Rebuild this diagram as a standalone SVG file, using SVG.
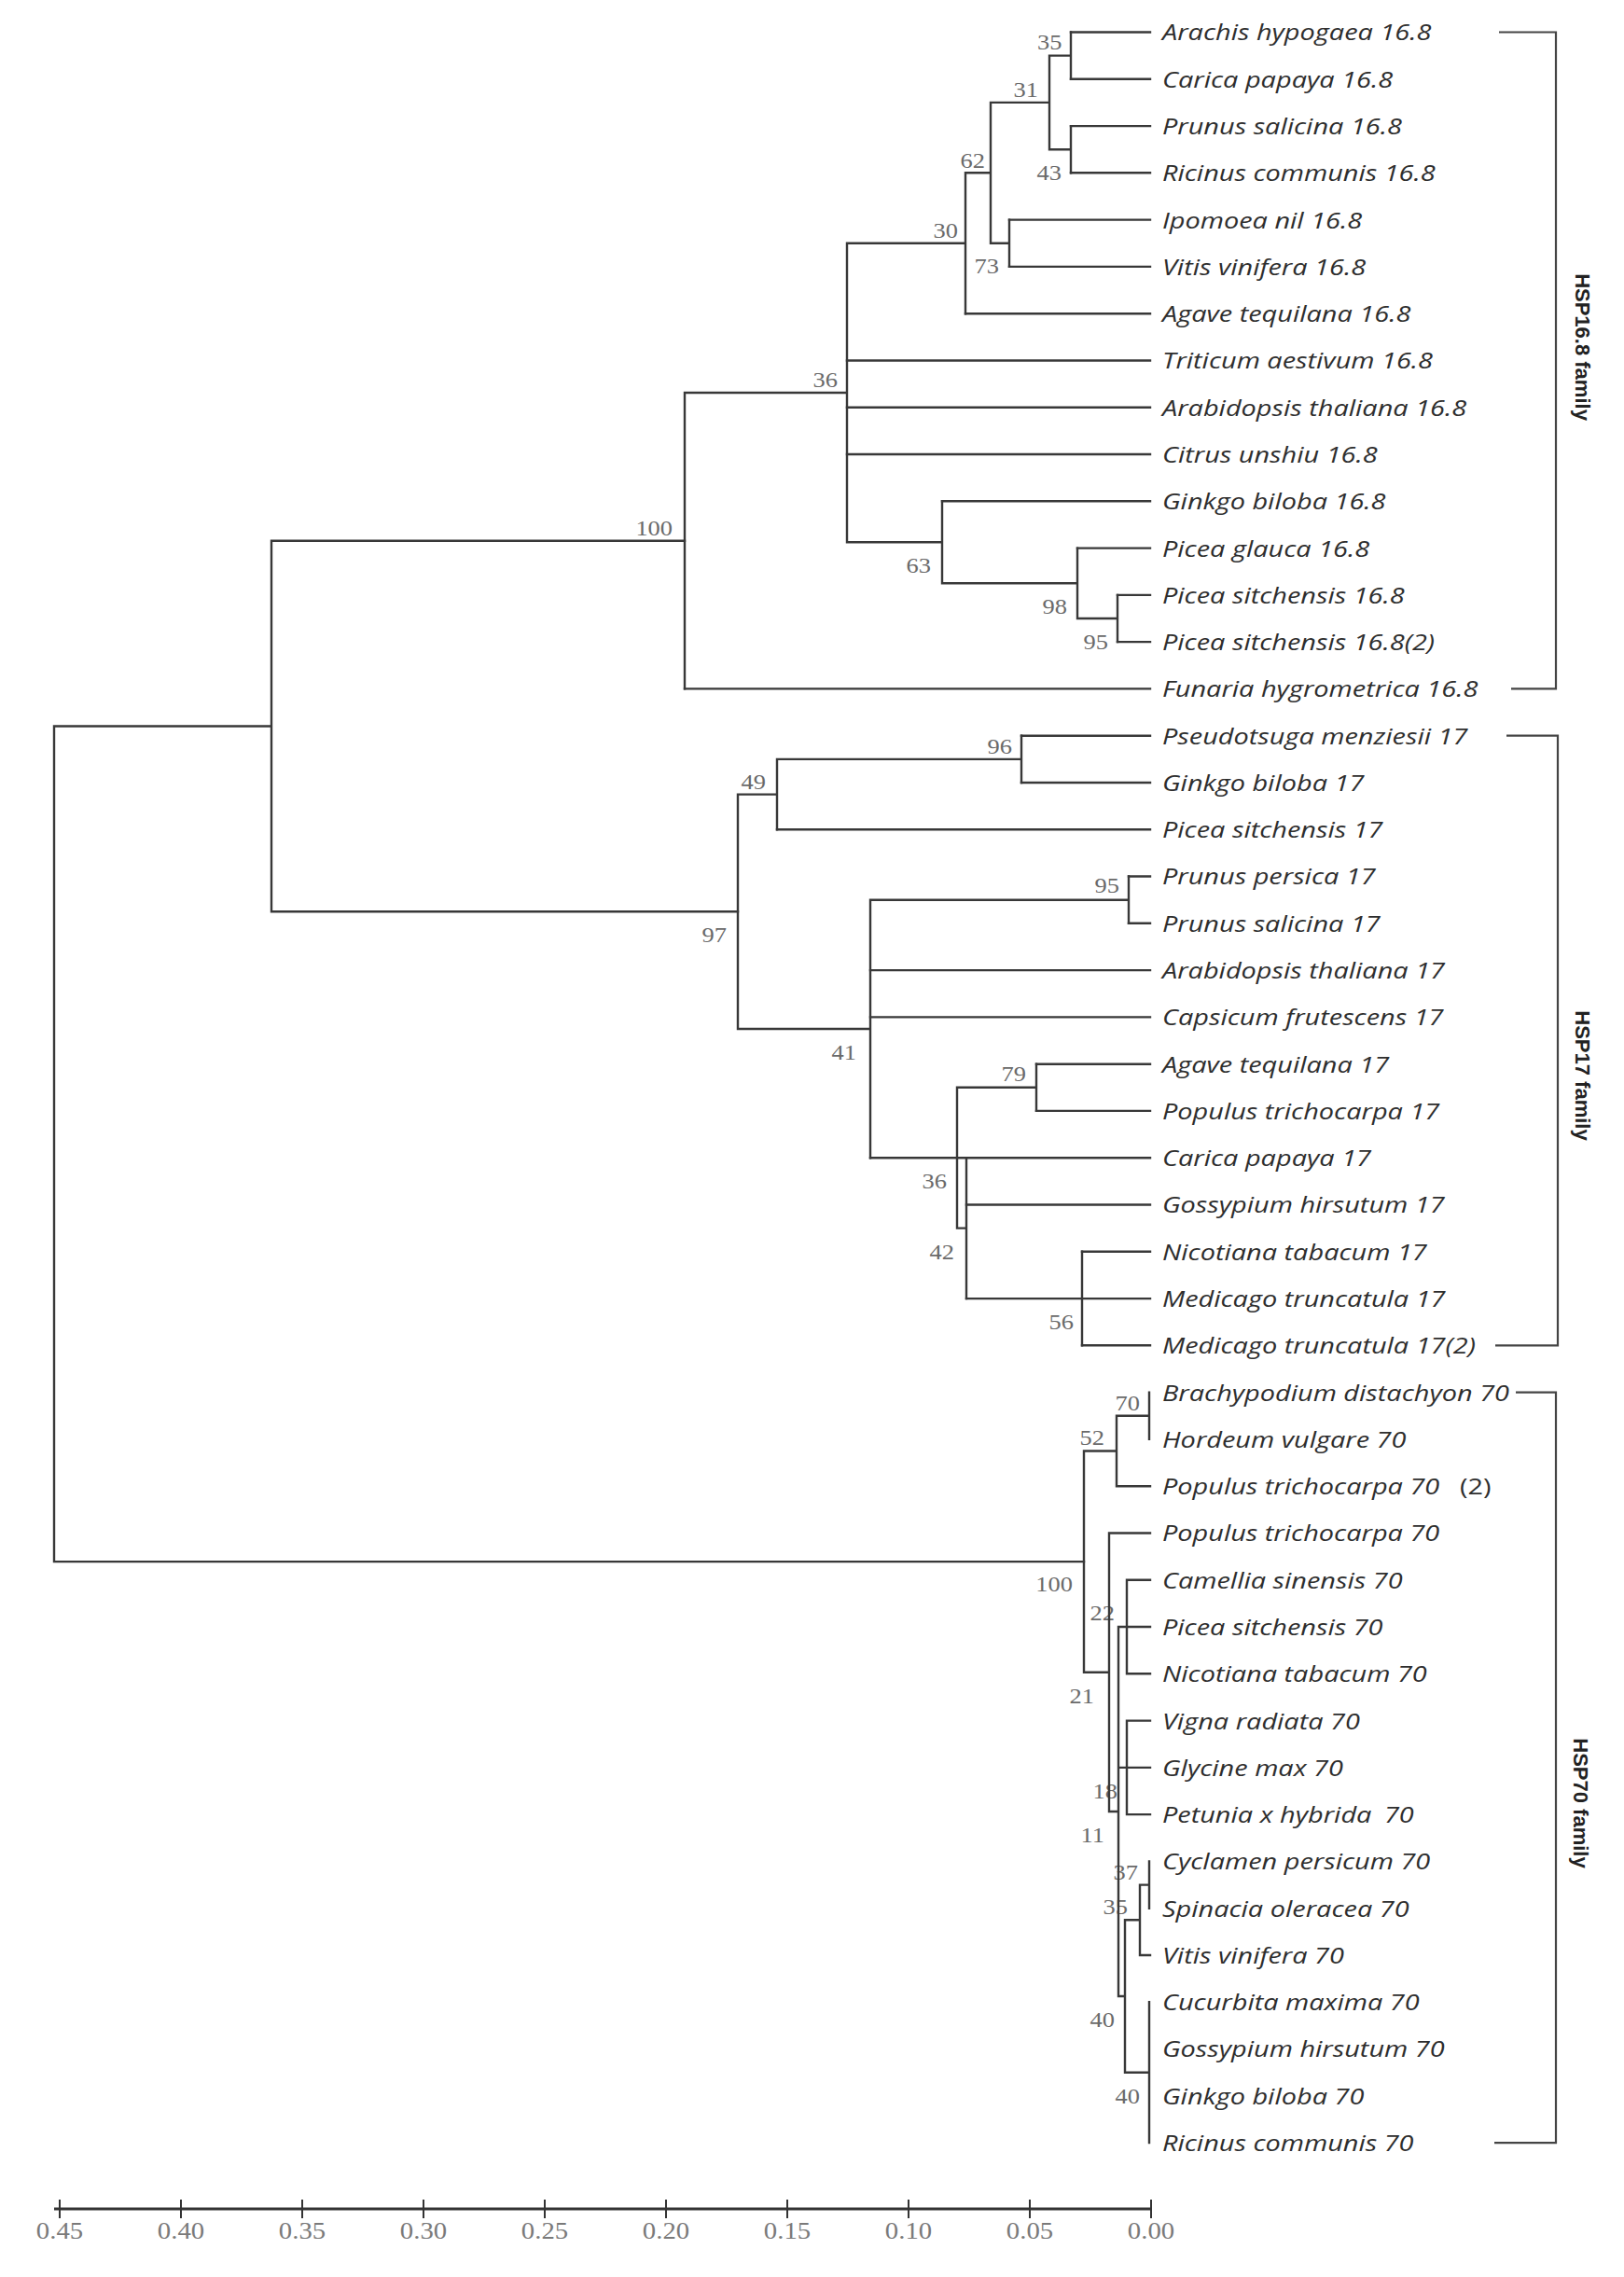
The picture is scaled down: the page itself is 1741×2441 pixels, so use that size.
<svg xmlns="http://www.w3.org/2000/svg" width="1741" height="2441" viewBox="0 0 1741 2441">
<style>
.br{fill:none;stroke:#383838;stroke-width:2.4;stroke-linecap:square}
.bk{fill:none;stroke:#444;stroke-width:2.2}
.axl{fill:none;stroke:#333;stroke-width:3}
.tk{fill:none;stroke:#333;stroke-width:2}
.leaf{font-family:"Open Sans","Liberation Sans",sans-serif;font-style:italic;font-size:24.5px;fill:#2e2e2e}
.up{font-style:normal}
.bs{font-family:"Liberation Serif",serif;font-size:23px;fill:#6a6a6a;text-anchor:end}
.ax{font-family:"Liberation Serif",serif;font-size:25px;fill:#7a7a7a;text-anchor:middle}
.fam{font-family:"Liberation Sans",sans-serif;font-weight:bold;font-size:22px;fill:#222;text-anchor:middle}
</style>
<rect x="0" y="0" width="1741" height="2441" fill="#fff"/>

<g id="leaves">
<g id="leaf-0"><text class="leaf" transform="scale(1.18,1)" x="1055.9" y="43.5">Arachis hypogaea 16.8</text></g>
<g id="leaf-1"><text class="leaf" transform="scale(1.18,1)" x="1055.9" y="93.8">Carica papaya 16.8</text></g>
<g id="leaf-2"><text class="leaf" transform="scale(1.18,1)" x="1055.9" y="144.1">Prunus salicina 16.8</text></g>
<g id="leaf-3"><text class="leaf" transform="scale(1.18,1)" x="1055.9" y="194.3">Ricinus communis 16.8</text></g>
<g id="leaf-4"><text class="leaf" transform="scale(1.18,1)" x="1055.9" y="244.6">Ipomoea nil 16.8</text></g>
<g id="leaf-5"><text class="leaf" transform="scale(1.18,1)" x="1055.9" y="294.9">Vitis vinifera 16.8</text></g>
<g id="leaf-6"><text class="leaf" transform="scale(1.18,1)" x="1055.9" y="345.2">Agave tequilana 16.8</text></g>
<g id="leaf-7"><text class="leaf" transform="scale(1.18,1)" x="1055.9" y="395.5">Triticum aestivum 16.8</text></g>
<g id="leaf-8"><text class="leaf" transform="scale(1.18,1)" x="1055.9" y="445.7">Arabidopsis thaliana 16.8</text></g>
<g id="leaf-9"><text class="leaf" transform="scale(1.18,1)" x="1055.9" y="496.0">Citrus unshiu 16.8</text></g>
<g id="leaf-10"><text class="leaf" transform="scale(1.18,1)" x="1055.9" y="546.3">Ginkgo biloba 16.8</text></g>
<g id="leaf-11"><text class="leaf" transform="scale(1.18,1)" x="1055.9" y="596.6">Picea glauca 16.8</text></g>
<g id="leaf-12"><text class="leaf" transform="scale(1.18,1)" x="1055.9" y="646.9">Picea sitchensis 16.8</text></g>
<g id="leaf-13"><text class="leaf" transform="scale(1.18,1)" x="1055.9" y="697.1">Picea sitchensis 16.8(2)</text></g>
<g id="leaf-14"><text class="leaf" transform="scale(1.18,1)" x="1055.9" y="747.4">Funaria hygrometrica 16.8</text></g>
<g id="leaf-15"><text class="leaf" transform="scale(1.18,1)" x="1055.9" y="797.7">Pseudotsuga menziesii 17</text></g>
<g id="leaf-16"><text class="leaf" transform="scale(1.18,1)" x="1055.9" y="848.0">Ginkgo biloba 17</text></g>
<g id="leaf-17"><text class="leaf" transform="scale(1.18,1)" x="1055.9" y="898.3">Picea sitchensis 17</text></g>
<g id="leaf-18"><text class="leaf" transform="scale(1.18,1)" x="1055.9" y="948.5">Prunus persica 17</text></g>
<g id="leaf-19"><text class="leaf" transform="scale(1.18,1)" x="1055.9" y="998.8">Prunus salicina 17</text></g>
<g id="leaf-20"><text class="leaf" transform="scale(1.18,1)" x="1055.9" y="1049.1">Arabidopsis thaliana 17</text></g>
<g id="leaf-21"><text class="leaf" transform="scale(1.18,1)" x="1055.9" y="1099.4">Capsicum frutescens 17</text></g>
<g id="leaf-22"><text class="leaf" transform="scale(1.18,1)" x="1055.9" y="1149.7">Agave tequilana 17</text></g>
<g id="leaf-23"><text class="leaf" transform="scale(1.18,1)" x="1055.9" y="1199.9">Populus trichocarpa 17</text></g>
<g id="leaf-24"><text class="leaf" transform="scale(1.18,1)" x="1055.9" y="1250.2">Carica papaya 17</text></g>
<g id="leaf-25"><text class="leaf" transform="scale(1.18,1)" x="1055.9" y="1300.5">Gossypium hirsutum 17</text></g>
<g id="leaf-26"><text class="leaf" transform="scale(1.18,1)" x="1055.9" y="1350.8">Nicotiana tabacum 17</text></g>
<g id="leaf-27"><text class="leaf" transform="scale(1.18,1)" x="1055.9" y="1401.1">Medicago truncatula 17</text></g>
<g id="leaf-28"><text class="leaf" transform="scale(1.18,1)" x="1055.9" y="1451.3">Medicago truncatula 17(2)</text></g>
<g id="leaf-29"><text class="leaf" transform="scale(1.18,1)" x="1055.9" y="1501.6">Brachypodium distachyon 70</text></g>
<g id="leaf-30"><text class="leaf" transform="scale(1.18,1)" x="1055.9" y="1551.9">Hordeum vulgare 70</text></g>
<g id="leaf-31"><text class="leaf" transform="scale(1.18,1)" x="1055.9" y="1602.2">Populus trichocarpa 70<tspan class="up" x="1326.3">(2)</tspan></text></g>
<g id="leaf-32"><text class="leaf" transform="scale(1.18,1)" x="1055.9" y="1652.5">Populus trichocarpa 70</text></g>
<g id="leaf-33"><text class="leaf" transform="scale(1.18,1)" x="1055.9" y="1702.7">Camellia sinensis 70</text></g>
<g id="leaf-34"><text class="leaf" transform="scale(1.18,1)" x="1055.9" y="1753.0">Picea sitchensis 70</text></g>
<g id="leaf-35"><text class="leaf" transform="scale(1.18,1)" x="1055.9" y="1803.3">Nicotiana tabacum 70</text></g>
<g id="leaf-36"><text class="leaf" transform="scale(1.18,1)" x="1055.9" y="1853.6">Vigna radiata 70</text></g>
<g id="leaf-37"><text class="leaf" transform="scale(1.18,1)" x="1055.9" y="1903.9">Glycine max 70</text></g>
<g id="leaf-38"><text class="leaf" transform="scale(1.18,1)" x="1055.9" y="1954.1">Petunia x hybrida<tspan x="1257.6">70</tspan></text></g>
<g id="leaf-39"><text class="leaf" transform="scale(1.18,1)" x="1055.9" y="2004.4">Cyclamen persicum 70</text></g>
<g id="leaf-40"><text class="leaf" transform="scale(1.18,1)" x="1055.9" y="2054.7">Spinacia oleracea 70</text></g>
<g id="leaf-41"><text class="leaf" transform="scale(1.18,1)" x="1055.9" y="2105.0">Vitis vinifera 70</text></g>
<g id="leaf-42"><text class="leaf" transform="scale(1.18,1)" x="1055.9" y="2155.3">Cucurbita maxima 70</text></g>
<g id="leaf-43"><text class="leaf" transform="scale(1.18,1)" x="1055.9" y="2205.5">Gossypium hirsutum 70</text></g>
<g id="leaf-44"><text class="leaf" transform="scale(1.18,1)" x="1055.9" y="2255.8">Ginkgo biloba 70</text></g>
<g id="leaf-45"><text class="leaf" transform="scale(1.18,1)" x="1055.9" y="2306.1">Ricinus communis 70</text></g>
</g>

<g id="bootstrap">
<g id="node-a35"><text class="bs" transform="scale(1.15,1)" x="990.0" y="53">35</text></g>
<g id="node-a31"><text class="bs" transform="scale(1.15,1)" x="967.8" y="104">31</text></g>
<g id="node-a62"><text class="bs" transform="scale(1.15,1)" x="918.3" y="180">62</text></g>
<g id="node-a43"><text class="bs" transform="scale(1.15,1)" x="989.6" y="193">43</text></g>
<g id="node-a30"><text class="bs" transform="scale(1.15,1)" x="893.0" y="255">30</text></g>
<g id="node-a73"><text class="bs" transform="scale(1.15,1)" x="931.3" y="293">73</text></g>
<g id="node-a36"><text class="bs" transform="scale(1.15,1)" x="780.9" y="415">36</text></g>
<g id="node-a100"><text class="bs" transform="scale(1.15,1)" x="627.0" y="574">100</text></g>
<g id="node-a63"><text class="bs" transform="scale(1.15,1)" x="867.8" y="614">63</text></g>
<g id="node-a98"><text class="bs" transform="scale(1.15,1)" x="994.8" y="658">98</text></g>
<g id="node-a95"><text class="bs" transform="scale(1.15,1)" x="1033.0" y="696">95</text></g>
<g id="node-b96"><text class="bs" transform="scale(1.15,1)" x="943.5" y="808">96</text></g>
<g id="node-b49"><text class="bs" transform="scale(1.15,1)" x="713.9" y="846">49</text></g>
<g id="node-b95"><text class="bs" transform="scale(1.15,1)" x="1043.5" y="957">95</text></g>
<g id="node-b97"><text class="bs" transform="scale(1.15,1)" x="677.4" y="1010">97</text></g>
<g id="node-b41"><text class="bs" transform="scale(1.15,1)" x="798.3" y="1136">41</text></g>
<g id="node-b79"><text class="bs" transform="scale(1.15,1)" x="956.5" y="1159">79</text></g>
<g id="node-b36"><text class="bs" transform="scale(1.15,1)" x="882.6" y="1274">36</text></g>
<g id="node-b42"><text class="bs" transform="scale(1.15,1)" x="889.6" y="1350">42</text></g>
<g id="node-b56"><text class="bs" transform="scale(1.15,1)" x="1000.9" y="1425">56</text></g>
<g id="node-c70"><text class="bs" transform="scale(1.15,1)" x="1062.6" y="1512">70</text></g>
<g id="node-c52"><text class="bs" transform="scale(1.15,1)" x="1029.6" y="1549">52</text></g>
<g id="node-c100"><text class="bs" transform="scale(1.15,1)" x="1000.0" y="1706">100</text></g>
<g id="node-c22"><text class="bs" transform="scale(1.15,1)" x="1039.1" y="1737">22</text></g>
<g id="node-c21"><text class="bs" transform="scale(1.15,1)" x="1020.0" y="1826">21</text></g>
<g id="node-c18"><text class="bs" transform="scale(1.15,1)" x="1041.7" y="1928">18</text></g>
<g id="node-c11"><text class="bs" transform="scale(1.15,1)" x="1029.6" y="1975">11</text></g>
<g id="node-c37"><text class="bs" transform="scale(1.15,1)" x="1060.9" y="2015">37</text></g>
<g id="node-c35"><text class="bs" transform="scale(1.15,1)" x="1051.3" y="2052">35</text></g>
<g id="node-c40a"><text class="bs" transform="scale(1.15,1)" x="1039.1" y="2173">40</text></g>
<g id="node-c40b"><text class="bs" transform="scale(1.15,1)" x="1062.6" y="2255">40</text></g>
</g>

<g id="connectors">
<path class="br" d="M1148 34.5H1233M1148 84.8H1233M1148 135.1H1233M1148 185.3H1233M1082 235.6H1233M1082 285.9H1233M1035 336.2H1233M908 386.5H1233M908 436.7H1233M908 487H1233M1010 537.3H1233M1155 587.6H1233M1198 637.9H1233M1198 688.1H1233M734 738.4H1233"/>
<path class="br" d="M1148 34.5V84.8M1148 135.1V185.3M1125 59.6V160.2M1125 59.6H1148M1125 160.2H1148M1082 235.6V285.9M1062 260.8H1082M1062 109.9V260.8M1062 109.9H1125M1035 185.3V336.2M1035 185.3H1062M908 260.8V581.3M908 260.8H1035M1198 637.9V688.1M1155 663H1198M1155 587.6V663M1010 625.3H1155M1010 537.3V625.3M908 581.3H1010M734 421V738.4M734 421H908"/>
<path class="br" d="M1095 788.7H1233M1095 839H1233M833 889.3H1233M1210 939.5H1233M1210 989.8H1233M933 1040.1H1233M933 1090.4H1233M1111 1140.7H1233M1111 1190.9H1233M933 1241.2H1233M1036 1291.5H1233M1160 1341.8H1233M1036 1392.1H1233M1160 1442.3H1233"/>
<path class="br" d="M1095 788.7V839M833 813.9H1095M833 813.9V889.3M791 851.6H833M1210 939.5V989.8M933 964.7H1210M1111 1140.7V1190.9M1026 1165.8H1111M1160 1341.8V1442.3M1036 1241.2V1392.1M1026 1316.6H1036M1026 1165.8V1316.6M933 964.7V1241.2M791 1103H933M791 851.6V1103"/>
<path class="br" d="M291 579.7V977.3M291 579.7H734M291 977.3H791M58 778.5V1674.1M58 778.5H291M58 1674.1H1162"/>
<path class="br" d="M1232 1492.6V1542.9M1197 1517.7H1232M1197 1517.7V1593.2M1197 1593.2H1233M1162 1555.5H1197M1162 1555.5V1792.8M1162 1792.8H1189M1189 1643.5V1942M1189 1643.5H1233M1189 1942H1199M1199 1744V2140M1199 1744H1233M1208 1693.7V1794.3M1208 1693.7H1233M1208 1794.3H1233M1208 1844.6V1945.1M1208 1844.6H1233M1199 1894.9H1233M1208 1945.1H1233M1199 2140H1206M1206 2058.3V2221.7M1206 2058.3H1222M1206 2221.7H1232M1222 2020.6V2096M1222 2020.6H1232M1222 2096H1233M1232 1995.4V2045.7M1232 2146.3V2297.1"/>
</g>

<g id="family-hsp16">
<path class="bk" d="M1607 34.5H1668V738.4H1620"/>
<text class="fam" transform="rotate(90 1689 372)" x="1689" y="372">HSP16.8 family</text>
</g>
<g id="family-hsp17">
<path class="bk" d="M1615 788.7H1670V1442.3H1603"/>
<text class="fam" transform="rotate(90 1689 1153)" x="1689" y="1153">HSP17 family</text>
</g>
<g id="family-hsp70">
<path class="bk" d="M1625 1492.6H1668V2297.1H1602"/>
<text class="fam" transform="rotate(90 1687 1933)" x="1687" y="1933">HSP70 family</text>
</g>

<g id="axis">
<path class="axl" d="M58 2368H1234"/>
<path class="tk" d="M64 2358V2378M194 2358V2378M324 2358V2378M454 2358V2378M584 2358V2378M714 2358V2378M844 2358V2378M974 2358V2378M1104 2358V2378M1234 2358V2378"/>
<g transform="scale(1.15,1)">
<text class="ax" x="55.65" y="2400">0.45</text>
<text class="ax" x="168.70" y="2400">0.40</text>
<text class="ax" x="281.74" y="2400">0.35</text>
<text class="ax" x="394.78" y="2400">0.30</text>
<text class="ax" x="507.83" y="2400">0.25</text>
<text class="ax" x="620.87" y="2400">0.20</text>
<text class="ax" x="733.91" y="2400">0.15</text>
<text class="ax" x="846.96" y="2400">0.10</text>
<text class="ax" x="960.00" y="2400">0.05</text>
<text class="ax" x="1073.04" y="2400">0.00</text>
</g>
</g>
</svg>
